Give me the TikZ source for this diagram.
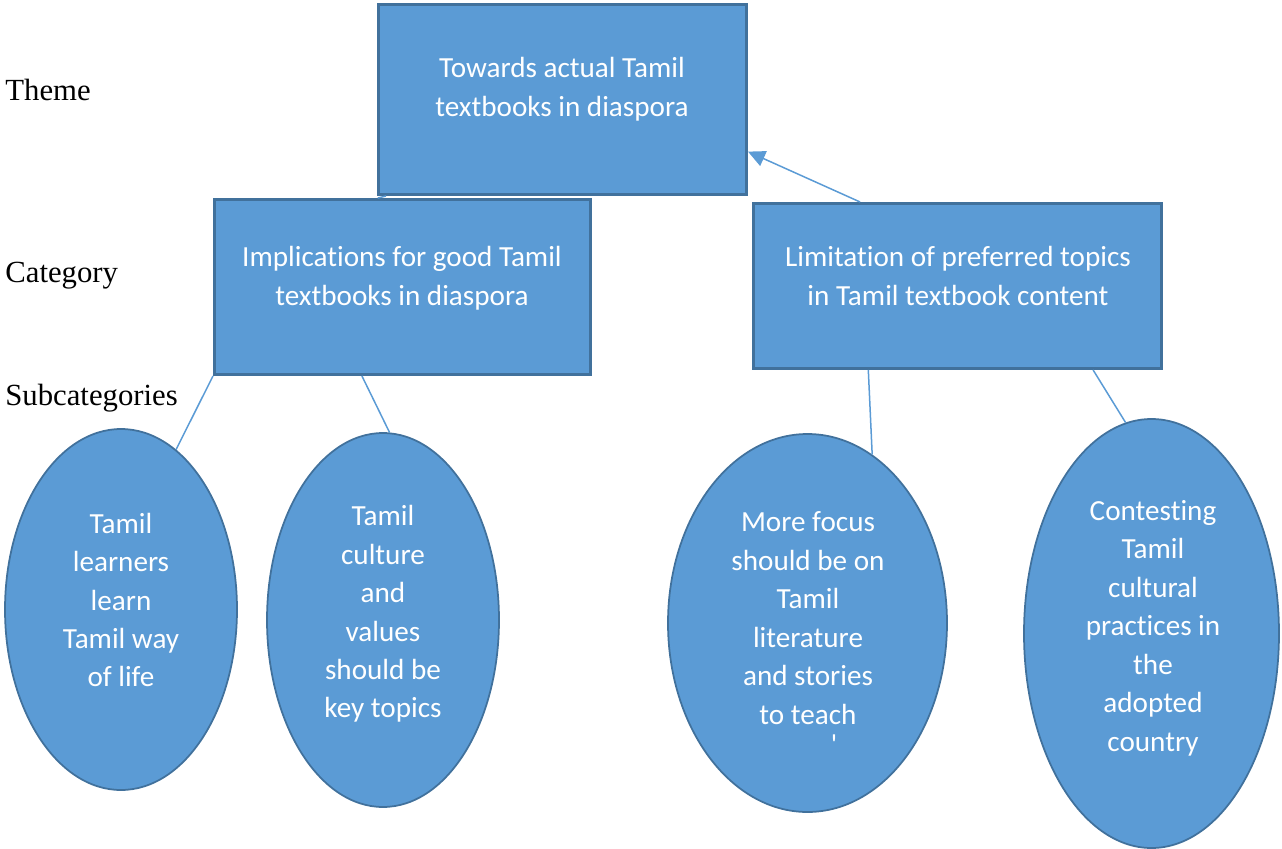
\documentclass[tikz,border=0pt]{standalone}
\usepackage{fontspec}
\setmainfont{Liberation Serif}
\newfontfamily\calfont[Ligatures=NoCommon]{Carlito}
\usepackage{tikz}
\usetikzlibrary{calc, shapes.geometric, arrows.meta}

\definecolor{boxblue}{HTML}{5B9BD5}
\definecolor{boxedge}{HTML}{41719C}

\tikzset{
	catbox/.style = {rectangle, draw = boxedge, fill = boxblue, line width = 0.06cm, inner sep = 0pt},
	subell/.style = {ellipse, draw = boxedge, fill = boxblue, line width = 0.035cm, inner sep = 0pt},
	boxtext/.style = {text = white, align = center, inner sep = 0pt, font = \calfont\fontsize{16.6}{21.9}\selectfont},
	rowlabel/.style = {anchor = base west, inner sep = 0pt, font = \fontsize{17.5}{21}\selectfont},
	link/.style = {draw = boxblue, line width = 0.03cm}
}

\begin{document}
\begin{tikzpicture}[x = 0.02cm, y = -0.02cm]
			\def\W{1282};
			\def\H{849};
			\def\px{0.02cm};

			\useasboundingbox (0,0) rectangle (\W,\H);

			\node [rowlabel] (themelbl) at (5,100) {Theme};
			\node [rowlabel] (catlbl) at (5,282) {Category};
			\node [rowlabel] (sublbl) at (5,405) {Subcategories};

			\begin{scope}
				\node [catbox, minimum width = {368*\px}, minimum height = {190*\px}] (theme) at (562.5,99.5) {};
				\node [catbox, minimum width = {376*\px}, minimum height = {175*\px}] (lc) at (402.5,287) {};
				\node [catbox, minimum width = {408*\px}, minimum height = {165*\px}] (rc) at (957.5,286) {};

				\node [boxtext] (themetxt) at (562,89) {Towards actual Tamil\\textbooks in diaspora};
				\node [boxtext] (lctxt) at (402,278) {Implications for good Tamil\\textbooks in diaspora};
				\node [boxtext] (rctxt) at (958,276) {Limitation of preferred topics\\in Tamil textbook content};
			\end{scope}

			\begin{scope}
				\node [subell, minimum width = {232*\px}, minimum height = {361*\px}] (e1) at (121,609.5) {};
				\node [subell, minimum width = {232*\px}, minimum height = {374*\px}] (e2) at (383,620) {};
				\node [subell, minimum width = {279*\px}, minimum height = {378*\px}] (e3) at (807.5,623) {};
				\node [subell, minimum width = {255*\px}, minimum height = {429*\px}] (e4) at (1151.5,633.5) {};

				\node [boxtext] (e1txt) at (121,600) {Tamil\\learners\\learn\\Tamil way\\of life};
				\node [boxtext] (e2txt) at (383,614) {Tamil\\culture\\and\\values\\should be\\key topics};
				\node [boxtext] (e3txt) at (808,618) {More focus\\should be on\\Tamil\\literature\\and stories\\to teach};
				\node [boxtext] (e4txt) at (1153,628) {Contesting\\Tamil\\cultural\\practices in\\the\\adopted\\country};
				\node [boxtext] (tick) at (834,745) {\char"0027};
			\end{scope}

			\begin{scope}[link]
				\draw ($(theme.south west)!0.024!(theme.south east)$) -- ($(lc.north west)!0.435!(lc.north east)$);
				\draw (lc.south west) -- (e1.71);
				\draw ($(lc.south west)!0.393!(lc.south east)$) -- (e2.88);
				\draw ($(rc.south west)!0.283!(rc.south east)$) -- (e3.69);
				\draw ($(rc.south west)!0.83!(rc.south east)$) -- (e4.97);
				\draw [-{Triangle[length = 0.34cm, width = 0.32cm]}] ($(rc.north west)!0.263!(rc.north east)$) -- ($(theme.north east)!0.77!(theme.south east)$);
			\end{scope}
		\end{tikzpicture}
\end{document}
